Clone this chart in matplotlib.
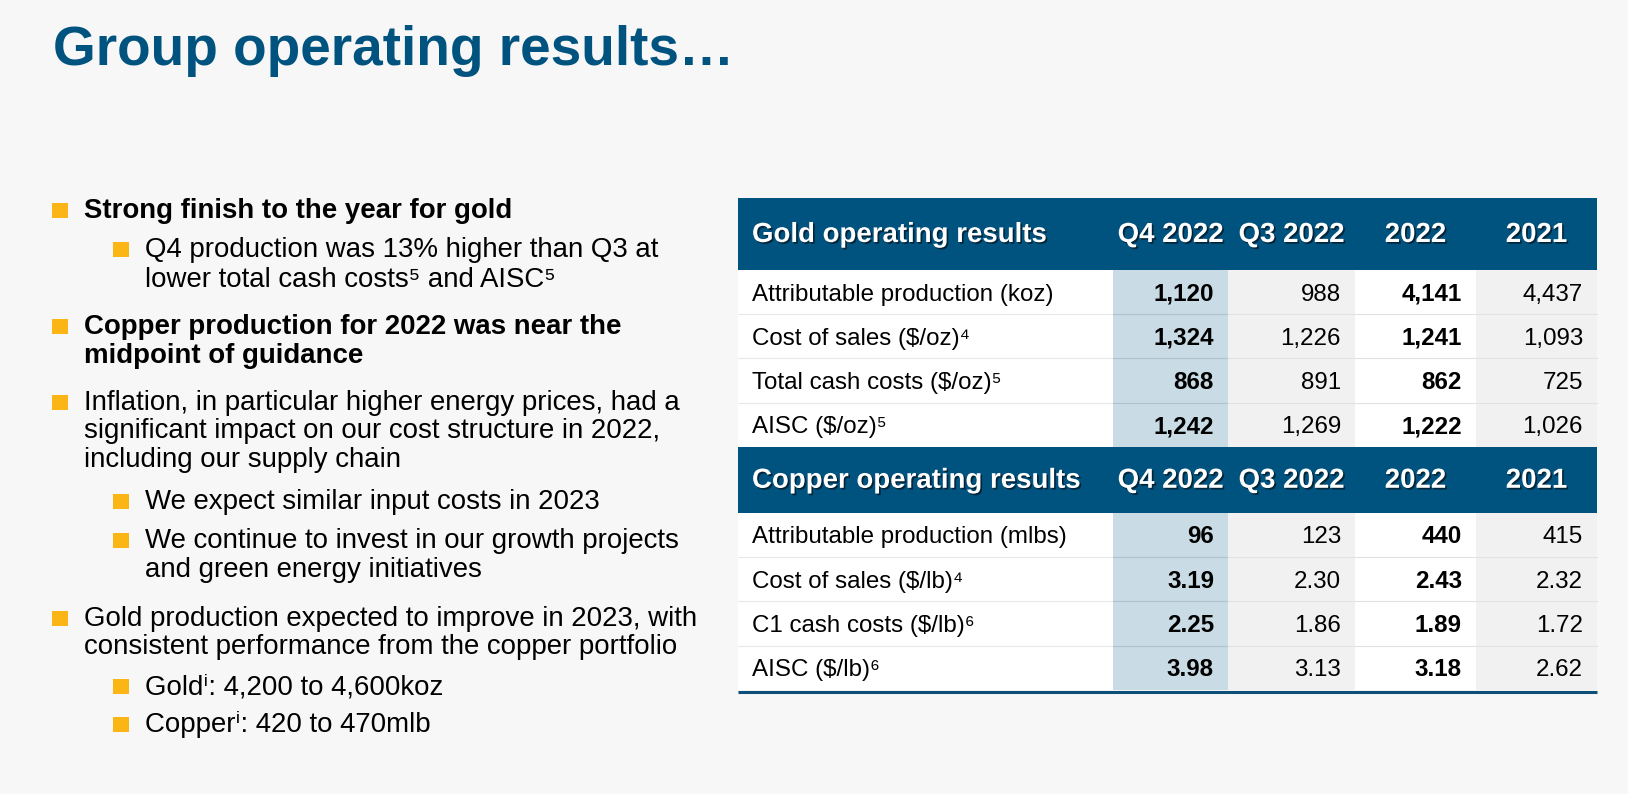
import matplotlib
matplotlib.use("Agg")
import matplotlib.pyplot as plt
import matplotlib.patheffects as pe
from matplotlib.patches import Rectangle

plt.rcParams['font.family'] = ['Liberation Sans', 'DejaVu Sans']

# ---- data ----
title = "Group operating results…"
columns = ["Q4 2022", "Q3 2022", "2022", "2021"]
bold_cols = [True, False, True, False]

gold_title = "Gold operating results"
gold_labels = ["Attributable production (koz)", "Cost of sales ($/oz)⁴", "Total cash costs ($/oz)⁵", "AISC ($/oz)⁵"]
gold_q4 = [1120, 1324, 868, 1242]
gold_q3 = [988, 1226, 891, 1269]
gold_2022 = [4141, 1241, 862, 1222]
gold_2021 = [4437, 1093, 725, 1026]
gold_fmt = ["{:,.0f}", "{:,.0f}", "{:,.0f}", "{:,.0f}"]

copper_title = "Copper operating results"
copper_labels = ["Attributable production (mlbs)", "Cost of sales ($/lb)⁴", "C1 cash costs ($/lb)⁶", "AISC ($/lb)⁶"]
copper_q4 = [96, 3.19, 2.25, 3.98]
copper_q3 = [123, 2.30, 1.86, 3.13]
copper_2022 = [440, 2.43, 1.89, 3.18]
copper_2021 = [415, 2.32, 1.72, 2.62]
copper_fmt = ["{:.0f}", "{:.2f}", "{:.2f}", "{:.2f}"]

# bullets: (level, bold, lines)
bullets = [
    (0, True, ["Strong finish to the year for gold"]),
    (1, False, ["Q4 production was 13% higher than Q3 at",
                "lower total cash costs⁵ and AISC⁵"]),
    (0, True, ["Copper production for 2022 was near the", "midpoint of guidance"]),
    (0, False, ["Inflation, in particular higher energy prices, had a",
                "significant impact on our cost structure in 2022,",
                "including our supply chain"]),
    (1, False, ["We expect similar input costs in 2023"]),
    (1, False, ["We continue to invest in our growth projects", "and green energy initiatives"]),
    (0, False, ["Gold production expected to improve in 2023, with",
                "consistent performance from the copper portfolio"]),
    (1, False, ["Goldⁱ: 4,200 to 4,600koz"]),
    (1, False, ["Copperⁱ: 420 to 470mlb"]),
]

# ---- styles / layout ----
BG = "#f7f7f7"
BLUE = "#00527f"
YELLOW = "#fbb515"
Q4_FILL = "#c9dbe4"
GREY_FILL = "#f1f1f1"

fig = plt.figure(figsize=(16.28, 7.94), dpi=100, facecolor=BG)
ax = fig.add_axes([0, 0, 1, 1])
ax.set_xlim(0, 1628)
ax.set_ylim(794, 0)
ax.axis("off")
ax.set_facecolor(BG)

ax.text(53, 65, title, fontsize=39.6, fontweight="bold", color=BLUE, va="baseline", ha="left")

# bullets
bullet_baselines = [[218], [257, 287], [334, 363], [410, 438, 467], [509], [548, 577],
                    [626, 654], [694], [732]]
text_x = [84, 145]
sq_x = [52, 113]
for (lvl, bold, lines), ys in zip(bullets, bullet_baselines):
    ax.add_patch(Rectangle((sq_x[lvl], ys[0] - 15.5), 15.5, 15.5, color=YELLOW, lw=0))
    for line, y in zip(lines, ys):
        ax.text(text_x[lvl], y, line, fontsize=19.9, fontweight="bold" if bold else "normal",
                color="black", va="baseline", ha="left")

# table
col_edges = [738, 1113, 1228, 1355, 1476, 1597]
col_fills = ["white", Q4_FILL, GREY_FILL, "white", GREY_FILL]
shadow = [pe.withSimplePatchShadow(offset=(1.2, -1.2), shadow_rgbFace="black", alpha=0.55)]


def draw_section(top, head_h, row_h, name, labels, series, fmts):
    left, right = col_edges[0], col_edges[-1]
    ax.add_patch(Rectangle((left, top), right - left, head_h, color=BLUE, lw=0))
    hy = top + head_h / 2 + 8
    ax.text(left + 14, hy, name, fontsize=19.9, fontweight="bold", color="white",
            va="baseline", ha="left", path_effects=shadow)
    for i, c in enumerate(columns):
        cx = (col_edges[i + 1] + col_edges[i + 2]) / 2
        ax.text(cx, hy, c, fontsize=19.9, fontweight="bold", color="white",
                va="baseline", ha="center", path_effects=shadow)
    body_top = top + head_h
    n = len(labels)
    for j in range(5):
        ax.add_patch(Rectangle((col_edges[j], body_top), col_edges[j + 1] - col_edges[j],
                               row_h * n, color=col_fills[j], lw=0))
    for r in range(1, n):
        y = body_top + r * row_h
        ax.plot([left, col_edges[1]], [y, y], color="#e8e8e8", lw=0.8)
        ax.plot([col_edges[1], col_edges[2]], [y, y], color="#adc3cf", lw=0.8)
        ax.plot([col_edges[2], right], [y, y], color="#e2e2e2", lw=0.8)
    for r in range(n):
        yb = body_top + r * row_h + row_h / 2 + 8.5
        ax.text(left + 14, yb, labels[r], fontsize=17.4, color="black", va="baseline", ha="left")
        for i, vals in enumerate(series):
            ax.text(col_edges[i + 2] - 14, yb, fmts[r].format(vals[r]), fontsize=17.4,
                    fontweight="bold" if bold_cols[i] else "normal", color="black",
                    va="baseline", ha="right")
    return body_top + row_h * n


gold_end = draw_section(198, 72, 44.2, gold_title, gold_labels,
                        [gold_q4, gold_q3, gold_2022, gold_2021], gold_fmt)
cu_end = draw_section(gold_end, 66, 44.3, copper_title, copper_labels,
                      [copper_q4, copper_q3, copper_2022, copper_2021], copper_fmt)
ax.plot([col_edges[0], col_edges[-1]], [cu_end + 1.5, cu_end + 1.5], color="#0e4f78", lw=2.2,
        solid_capstyle="butt")

fig.savefig("out.png", dpi=100, facecolor=BG)
